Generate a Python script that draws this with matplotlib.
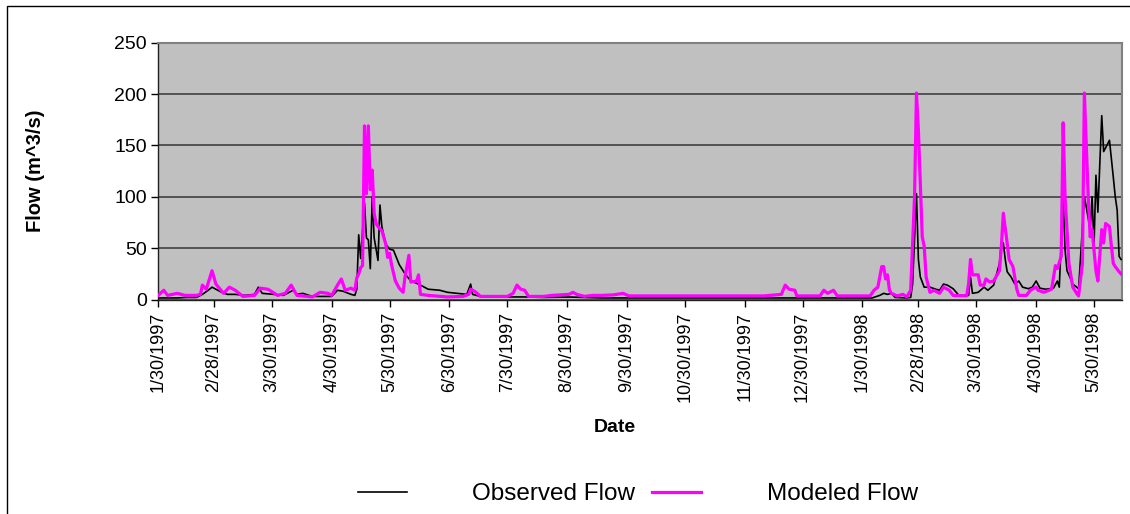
import matplotlib.pyplot as plt
import matplotlib.dates as mdates
from matplotlib.patches import Rectangle
from datetime import datetime, timedelta
import numpy as np

plt.rcParams['font.family'] = ['Liberation Sans', 'DejaVu Sans']

# Data (days after 1/30/1997, flow in m^3/s)
start = datetime(1997, 1, 30)

obs_days = [0, 10, 15, 20, 23, 26, 28, 30, 33, 36, 40, 45, 50, 52, 54, 60, 65, 70, 72, 75,
            80, 90, 93, 96, 100, 102, 103, 104, 105, 107, 108, 109, 110, 111, 112, 114, 115,
            116, 118, 120, 122, 125, 128, 131, 135, 140, 146, 150, 155, 160, 162, 163, 167,
            175, 181, 190, 200, 214, 220, 230, 300, 370, 374, 376, 378, 380, 382, 388, 390,
            391, 393, 394, 395, 397, 400, 403, 405, 407, 409, 412, 415, 420, 421, 422, 425,
            428, 430, 433, 436, 437, 438, 439, 440, 442, 444, 446, 448, 451, 453, 455, 457,
            460, 464, 466, 467, 469, 470, 471, 472, 474, 477, 480, 481, 483, 484, 485, 486,
            487, 489, 490, 493, 495, 496, 497, 498, 499]
obs_flow = [1.5, 1.5, 2, 2, 5, 9, 12, 10, 7, 5, 5, 4, 5, 12, 6, 5, 4, 9, 5, 6,
            3, 3, 9, 8, 5, 4, 10, 63, 40, 94, 60, 58, 30, 100, 60, 38, 92,
            71, 54, 49, 48, 34, 25, 18, 15, 10, 9, 7, 6, 5, 15, 5, 3,
            2.5, 2.5, 2.5, 2, 2.4, 2, 1.5, 1.5, 1.5, 4, 6, 5, 6, 2, 1.5, 2,
            15, 103, 39, 22, 12, 12, 10, 9, 15, 14, 10.5, 4, 4, 22, 6, 7,
            12, 9, 14, 35, 56, 55, 39, 27, 22, 15, 18, 12, 10.5, 12, 18, 11,
            10, 11, 18, 12, 100, 48, 28, 24, 15, 10.5, 100, 90, 68, 100, 52, 121,
            85, 179, 144, 155, 119, 100, 87, 42, 39]

mod_days = [0, 3, 5, 10, 14, 20, 22, 23, 25, 28, 30, 34, 37, 40, 44, 50, 53, 57, 62, 66,
            69, 72, 80, 84, 88, 90, 93, 95, 97, 100, 102, 103, 104, 105, 106, 107, 108, 109,
            110, 111, 112, 113, 114, 116, 118, 119, 120, 121, 123, 125, 127, 128, 130, 131,
            134, 135, 136, 140, 150, 158, 161, 162, 164, 166, 167, 181, 184, 186, 188, 190,
            192, 200, 204, 213, 215, 217, 221, 225, 230, 236, 241, 244, 314, 323, 325, 327,
            330, 331, 343, 345, 347, 350, 352, 369, 371, 373, 375, 376, 377, 378, 379, 380,
            383, 386, 388, 390, 392, 393, 394, 396, 397, 398, 400, 402, 405, 407, 410, 412,
            419, 420, 421, 422, 425, 426, 428, 429, 431, 433, 436, 437, 438, 440, 441, 443,
            445, 446, 450, 452, 455, 456, 459, 463, 465, 466, 468, 469, 470, 472, 474, 476,
            477, 479, 480, 482, 483, 484, 485, 486, 487, 489, 490, 491, 493, 494, 495, 496,
            498, 499]
mod_flow = [4, 9, 4, 6, 4, 4, 5, 14, 10, 28, 15, 6, 12, 9, 3, 4, 11, 10, 4, 6,
            14, 4, 2.5, 7, 6, 4, 14, 20, 9, 11, 9, 21, 25, 31, 33, 169, 103, 169,
            107, 126, 84, 74, 71, 67, 54, 41, 45, 34, 18, 11, 7, 22, 43, 17,
            18, 24, 5, 4, 2.5, 3, 5, 10, 8, 5, 3, 3, 6, 14, 10, 9,
            3, 3, 4, 5, 7, 5, 3, 4, 4, 4.5, 6, 3.5, 3.5, 5, 14, 10,
            9, 3.5, 3.5, 9, 6, 9, 3.5, 3.5, 9, 12, 32, 32, 20, 24, 9, 6,
            3.5, 5, 2.5, 9, 100, 201, 165, 61, 52, 22, 7, 9, 6, 12, 9, 4,
            3.5, 15, 39, 24, 24, 14, 14, 20, 17, 18, 28, 52, 84, 55, 39, 32,
            10, 4, 4, 9, 12, 9, 7, 10, 33, 30, 42, 172, 100, 35, 12, 6,
            3.5, 35, 201, 100, 61, 68, 48, 28, 18, 68, 55, 74, 71, 52, 35, 32,
            27, 25]

tick_labels = ["1/30/1997", "2/28/1997", "3/30/1997", "4/30/1997", "5/30/1997",
               "6/30/1997", "7/30/1997", "8/30/1997", "9/30/1997", "10/30/1997",
               "11/30/1997", "12/30/1997", "1/30/1998", "2/28/1998", "3/30/1998",
               "4/30/1998", "5/30/1998"]

obs_dates = [start + timedelta(days=d) for d in obs_days]
mod_dates = [start + timedelta(days=d) for d in mod_days]
tick_dates = [datetime.strptime(t, "%m/%d/%Y") for t in tick_labels]

fig = plt.figure(figsize=(11.3, 5.14), dpi=100)
ax = fig.add_axes([158 / 1130, 1 - 299.5 / 514, (1122 - 158) / 1130, (299.5 - 42.7) / 514])
ax.set_facecolor("#C0C0C0")

ax.plot(obs_dates, obs_flow, color="black", lw=1.2, label="Observed Flow", zorder=3)
ax.plot(mod_dates, mod_flow, color="#FF00FF", lw=2.3, label="Modeled Flow", zorder=4)

ax.set_xlim(start, start + timedelta(days=499.5))
ax.set_ylim(0, 250)
ax.set_yticks(np.arange(0, 251, 50))
ax.yaxis.grid(True, color="#404040", lw=1.2)
ax.set_axisbelow(True)

ax.set_xticks(mdates.date2num(tick_dates))
ax.set_xticklabels(tick_labels, rotation=90, fontsize=13)
ax.tick_params(axis="y", labelsize=14, length=5, width=1, direction="out", pad=3)
ax.tick_params(axis="x", length=5, width=1, direction="out", pad=4)

for side in ["top", "right"]:
    ax.spines[side].set_color("#808080")
    ax.spines[side].set_linewidth(1.5)
for side in ["left", "bottom"]:
    ax.spines[side].set_color("#202020")
    ax.spines[side].set_linewidth(1)

ax.set_ylabel("Flow (m^3/s)", fontsize=14.5, fontweight="bold")
ax.yaxis.set_label_coords(-0.117, 0.5)
fig.text(615 / 1130, 1 - 428 / 514, "Date", fontsize=14, fontweight="bold",
         ha="center", va="center")

fig.legend(loc="center", bbox_to_anchor=(638 / 1130, 1 - 494 / 514), ncol=2,
           frameon=False, fontsize=17.5, handlelength=2.0, handletextpad=2.7,
           columnspacing=0.7)

fig.add_artist(Rectangle((7 / 1130, -0.1), 1.2, 1 - 6 / 514 + 0.1,
                         transform=fig.transFigure, fill=False, edgecolor="black", lw=1))

fig.savefig("out.png", dpi=100)
